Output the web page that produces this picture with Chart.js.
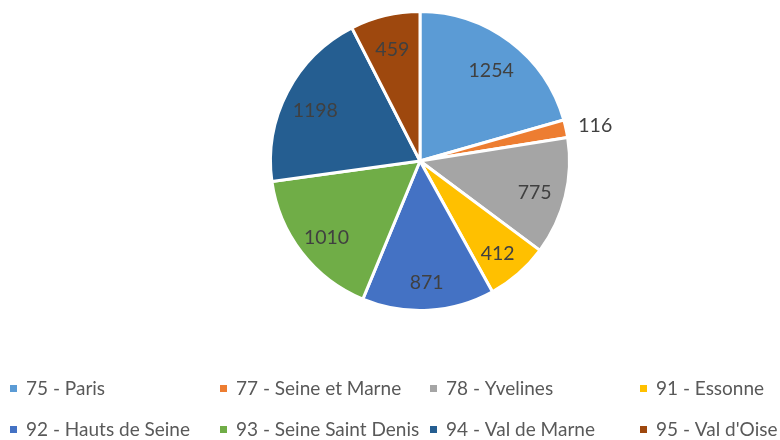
<!DOCTYPE html>
<html>
<head>
<meta charset="utf-8">
<script src="https://cdn.jsdelivr.net/npm/chart.js@4"></script>
<style>
    html, body { margin: 0; padding: 0; background: #fff; }
    #wrap { width: 780px; height: 440px; position: relative; }
</style>
</head>
<body>
<div id="wrap"><canvas id="pie-chart"></canvas></div>
<script>
const departements = ['75 - Paris', '77 - Seine et Marne', '78 - Yvelines', '91 - Essonne',
    '92 - Hauts de Seine', '93 - Seine Saint Denis', '94 - Val de Marne', "95 - Val d'Oise"];
const counts = [1254, 116, 775, 412, 871, 1010, 1198, 459];
const sliceColors = ['#5B9BD5', '#ED7D31', '#A5A5A5', '#FFC000', '#4472C4', '#70AD47', '#255E91', '#9E480E'];

const FONT = 'Lato, "Open Sans", sans-serif';

// Value labels: inside the slice, small slices go outside
const valueLabels = {
    id: 'valueLabels',
    afterDatasetsDraw(chart) {
        const ctx = chart.ctx;
        const meta = chart.getDatasetMeta(0);
        const total = counts.reduce((a, b) => a + b, 0);
        ctx.save();
        ctx.font = '19.5px ' + FONT;
        ctx.fillStyle = '#404040';
        ctx.textAlign = 'center';
        ctx.textBaseline = 'middle';
        meta.data.forEach((arc, i) => {
            const p = arc.getProps(['x', 'y', 'startAngle', 'endAngle', 'outerRadius']);
            const mid = (p.startAngle + p.endAngle) / 2;
            const small = counts[i] / total < 0.05;
            const r = small ? p.outerRadius + 30 : p.outerRadius * 0.79;
            ctx.fillText(String(counts[i]), p.x + Math.cos(mid) * r, p.y + Math.sin(mid) * r + 4);
        });
        ctx.restore();
    }
};

// Legend laid out on a fixed 4-column grid, like the original
const gridLegend = {
    id: 'gridLegend',
    afterDraw(chart) {
        const ctx = chart.ctx;
        const cols = [10, 220, 430, 640];
        const rows = [389, 430];
        ctx.save();
        ctx.font = '19px ' + FONT;
        ctx.textBaseline = 'middle';
        departements.forEach((name, i) => {
            const x = cols[i % 4];
            const y = rows[Math.floor(i / 4)];
            ctx.fillStyle = sliceColors[i];
            ctx.fillRect(x, y - 4, 7, 7);
            ctx.fillStyle = '#595959';
            ctx.fillText(name, x + 16, y);
        });
        ctx.restore();
    }
};

new Chart(document.getElementById('pie-chart'), {
    type: 'pie',
    data: {
        labels: departements,
        datasets: [{
            data: counts,
            backgroundColor: sliceColors,
            borderColor: '#ffffff',
            borderWidth: 3
        }]
    },
    options: {
        responsive: true,
        maintainAspectRatio: false,
        animation: false,
        layout: { padding: { top: 10, bottom: 128, left: 60, right: 0 } },
        plugins: {
            legend: { display: false },
            tooltip: { enabled: false }
        }
    },
    plugins: [valueLabels, gridLegend]
});
</script>
</body>
</html>
